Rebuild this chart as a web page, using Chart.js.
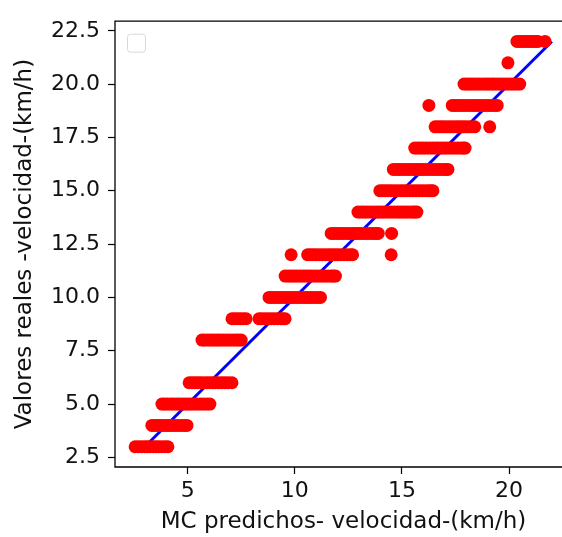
<!DOCTYPE html>
<html>
<head>
<meta charset="utf-8">
<script src="https://cdn.jsdelivr.net/npm/chart.js@4/dist/chart.umd.min.js"></script>
<style>
  body { margin: 0; overflow: hidden; background: #fff; }
  #wrap { width: 600px; height: 537px; }
</style>
</head>
<body>
<div id="wrap"><canvas id="chart"></canvas></div>
<script>
// real speed levels (y) and the predicted speeds (x) found at each level
var levels = [3, 4, 5, 6, 8, 9, 10, 11, 12, 13, 14, 15, 16, 17, 18, 19, 20, 21, 22];
var predRows = [
  [2.55, 2.7, 2.85, 3.0, 3.12, 3.25, 3.4, 3.52, 3.65, 3.8, 3.95, 4.08],
  [3.33, 3.45, 3.58, 3.72, 3.85, 4.0, 4.12, 4.25, 4.4, 4.55, 4.7, 4.85, 4.97],
  [3.8, 3.92, 4.05, 4.2, 4.33, 4.47, 4.6, 4.75, 4.88, 5.02, 5.15, 5.3, 5.45, 5.6, 5.75, 5.9, 6.04],
  [5.07, 5.2, 5.33, 5.47, 5.6, 5.75, 5.9, 6.03, 6.17, 6.3, 6.45, 6.6, 6.75, 6.9, 7.07],
  [5.67, 5.8, 5.95, 6.1, 6.23, 6.37, 6.5, 6.65, 6.8, 6.95, 7.1, 7.25, 7.38, 7.5],
  [7.07, 7.2, 7.33, 7.47, 7.6, 7.73, 8.33, 8.45, 8.6, 8.75, 8.9, 9.05, 9.2, 9.35, 9.45, 9.55],
  [8.8, 8.93, 9.07, 9.2, 9.35, 9.5, 9.63, 9.77, 9.9, 10.05, 10.2, 10.33, 10.47, 10.6, 10.75, 10.9, 11.05, 11.2],
  [9.55, 9.7, 9.83, 9.97, 10.1, 10.25, 10.4, 10.53, 10.67, 10.8, 10.95, 11.1, 11.25, 11.4, 11.55, 11.7, 11.8, 11.9],
  [9.83, 10.6, 10.73, 10.87, 11.0, 11.15, 11.3, 11.45, 11.6, 11.73, 11.87, 12.0, 12.15, 12.3, 12.45, 12.6, 12.7, 14.5],
  [11.7, 11.83, 11.97, 12.1, 12.25, 12.4, 12.55, 12.7, 12.83, 12.97, 13.1, 13.25, 13.4, 13.55, 13.7, 13.8, 13.9, 14.52],
  [12.95, 13.08, 13.22, 13.35, 13.5, 13.65, 13.8, 13.93, 14.07, 14.2, 14.35, 14.5, 14.65, 14.8, 14.93, 15.07, 15.2, 15.35, 15.5, 15.6, 15.7],
  [13.97, 14.1, 14.23, 14.37, 14.5, 14.65, 14.8, 14.95, 15.08, 15.22, 15.35, 15.5, 15.65, 15.8, 15.95, 16.1, 16.25, 16.35, 16.45],
  [14.6, 14.73, 14.87, 15.0, 15.15, 15.3, 15.45, 15.6, 15.73, 15.87, 16.0, 16.15, 16.3, 16.45, 16.6, 16.75, 16.9, 17.03, 17.15],
  [15.6, 15.73, 15.87, 16.0, 16.15, 16.3, 16.45, 16.6, 16.73, 16.87, 17.0, 17.15, 17.3, 17.45, 17.6, 17.75, 17.87, 17.95],
  [16.55, 16.68, 16.82, 16.95, 17.1, 17.25, 17.4, 17.55, 17.68, 17.82, 17.95, 18.1, 18.25, 18.4, 19.1],
  [16.26, 17.35, 17.48, 17.62, 17.75, 17.9, 18.05, 18.2, 18.35, 18.48, 18.62, 18.75, 18.9, 19.05, 19.2, 19.33, 19.45],
  [17.9, 18.03, 18.17, 18.3, 18.45, 18.6, 18.75, 18.9, 19.03, 19.17, 19.3, 19.45, 19.6, 19.75, 19.9, 20.05, 20.2, 20.35, 20.5],
  [19.95],
  [20.37, 20.5, 20.62, 20.75, 20.88, 21.0, 21.12, 21.25, 21.35, 21.68]
];
// identity line
var lineX = [3, 22];
var lineY = [3, 22];

var xTicks = [5, 10, 15, 20];
var yTicks = [2.5, 5.0, 7.5, 10.0, 12.5, 15.0, 17.5, 20.0, 22.5];

var points = [];
levels.forEach(function (lv, i) {
  predRows[i].forEach(function (px) { points.push({x: px, y: lv}); });
});
var linePts = lineX.map(function (v, i) { return {x: v, y: lineY[i]}; });

var tickFont = {family: 'DejaVu Sans', size: 22};
var titleFont = {family: 'DejaVu Sans', size: 23};

// axes frame (right side is off the picture) + the empty matplotlib legend box
var framePlugin = {
  id: 'frame',
  afterDraw: function (chart) {
    var ctx = chart.ctx, a = chart.chartArea;
    ctx.save();
    ctx.strokeStyle = '#000';
    ctx.lineWidth = 1.3;
    ctx.beginPath();
    ctx.moveTo(a.right + 5, a.top);
    ctx.lineTo(a.left, a.top);
    ctx.lineTo(a.left, a.bottom);
    ctx.lineTo(a.right + 5, a.bottom);
    ctx.stroke();
    // legend
    var x = a.left + 12.5, y = a.top + 13, w = 18, h = 18, r = 3;
    ctx.beginPath();
    ctx.moveTo(x + r, y);
    ctx.arcTo(x + w, y, x + w, y + h, r);
    ctx.arcTo(x + w, y + h, x, y + h, r);
    ctx.arcTo(x, y + h, x, y, r);
    ctx.arcTo(x, y, x + w, y, r);
    ctx.closePath();
    ctx.fillStyle = 'rgba(255,255,255,0.8)';
    ctx.fill();
    ctx.strokeStyle = '#d9d9d9';
    ctx.lineWidth = 1;
    ctx.stroke();
    ctx.restore();
  }
};

new Chart(document.getElementById('chart').getContext('2d'), {
  type: 'scatter',
  data: {
    datasets: [{
      data: points,
      backgroundColor: '#ff0000',
      borderWidth: 0,
      pointRadius: 6.5,
      pointHoverRadius: 6.5,
      order: 0
    }, {
      data: linePts,
      showLine: true,
      borderColor: '#0000ff',
      borderWidth: 3,
      pointRadius: 0,
      order: 1
    }]
  },
  options: {
    responsive: true,
    maintainAspectRatio: false,
    animation: false,
    layout: {padding: {left: 0, top: 8.5, right: 28, bottom: 0}},
    plugins: {legend: {display: false}, tooltip: {enabled: false}},
    scales: {
      x: {
        min: 1.61,
        max: 22.94,
        afterBuildTicks: function (s) { s.ticks = xTicks.map(function (v) { return {value: v}; }); },
        afterFit: function (s) { s.height = 70; },
        grid: {display: true, drawOnChartArea: false, drawTicks: true, tickLength: 7, tickColor: '#000', tickWidth: 1.2},
        border: {display: false},
        ticks: {color: '#111', font: tickFont, padding: 4, maxRotation: 0, autoSkip: false},
        title: {display: true, text: 'MC predichos- velocidad-(km/h)', color: '#111', font: titleFont, padding: {top: 0, bottom: 1}}
      },
      y: {
        min: 2.05,
        max: 22.95,
        afterBuildTicks: function (s) { s.ticks = yTicks.map(function (v) { return {value: v}; }); },
        afterFit: function (s) { s.width = 115; },
        grid: {display: true, drawOnChartArea: false, drawTicks: true, tickLength: 7, tickColor: '#000', tickWidth: 1.2},
        border: {display: false},
        ticks: {color: '#111', font: tickFont, padding: 8, autoSkip: false,
          callback: function (v) { return Number(v).toFixed(1); }},
        title: {display: true, text: 'Valores reales -velocidad-(km/h)', color: '#111', font: titleFont, padding: {top: 11, bottom: 0}}
      }
    }
  },
  plugins: [framePlugin]
});
</script>
</body>
</html>
